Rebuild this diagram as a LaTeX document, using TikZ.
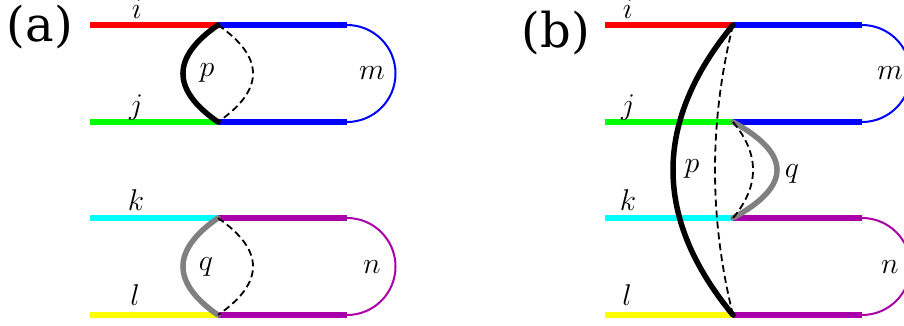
\documentclass[tikz,border=0pt]{standalone}
\usepackage{fix-cm}
\usepackage{fontspec}
\newfontfamily\labfont{DejaVu Serif}
\definecolor{purp}{RGB}{170,0,170}
\definecolor{cyn}{RGB}{0,255,255}
\definecolor{grn}{RGB}{0,255,0}
\definecolor{yel}{RGB}{255,255,0}
\definecolor{gry}{RGB}{128,128,128}
\tikzset{
  leg/.style={line width=6pt},
  loopline/.style={line width=2pt},
  solidprop/.style={line width=5.5pt, line cap=round},
  dashprop/.style={line width=1.8pt, dash pattern=on 7pt off 4pt},
  idx/.style={font=\fontsize{30}{30}\selectfont, anchor=base, inner sep=0pt},
  panel/.style={font=\labfont\fontsize{48}{48}\selectfont, inner sep=0pt}
}
\begin{document}
\begin{tikzpicture}[x=1pt,y=-1pt]
\useasboundingbox (0,0) rectangle (904,325);
\clip (0,0) rectangle (904,325);
% ---------- coordinates
\foreach \r/\y in {i/25,j/122,k/218,l/315}{
  \coordinate (a\r L) at (90,\y);
  \coordinate (a\r J) at (218,\y);
  \coordinate (a\r R) at (347,\y);
  \coordinate (b\r L) at (605,\y);
  \coordinate (b\r J) at (733,\y);
  \coordinate (b\r R) at (862,\y);
}
% ---------- panel (a) lines
\draw[leg, red] (aiL) -- (aiJ);
\draw[leg, grn] (ajL) -- (ajJ);
\draw[leg, cyn] (akL) -- (akJ);
\draw[leg, yel] (alL) -- (alJ);
\draw[leg, blue] (aiJ) -- (aiR);
\draw[leg, blue] (ajJ) -- (ajR);
\draw[leg, purp] (akJ) -- (akR);
\draw[leg, purp] (alJ) -- (alR);
\draw[loopline, blue] (aiR) arc[start angle=-90, end angle=90, radius=48.5];
\draw[loopline, purp] (akR) arc[start angle=-90, end angle=90, radius=48.5];
% propagators (a)
\draw[solidprop, black] (aiJ) .. controls (171.3,57.3) and (171.3,89.7) .. (ajJ);
\draw[dashprop, black] (aiJ) .. controls (264.7,57.3) and (264.7,89.7) .. (ajJ);
\draw[solidprop, gry] (akJ) .. controls (171.3,250.3) and (171.3,282.7) .. (alJ);
\draw[dashprop, black] (akJ) .. controls (264.7,250.3) and (264.7,282.7) .. (alJ);
% labels (a)
\node[panel] (pa) at (40,27) {(a)};
\node[idx] (ai) at (137,18) {$i$};
\node[idx] (aj) at (136,114) {$j$};
\node[idx] (ak) at (136,210) {$k$};
\node[idx] (al) at (135,305) {$l$};
\node[idx] (ap) at (207,76) {$p$};
\node[idx] (am) at (372,79) {$m$};
\node[idx] (aq) at (206,270) {$q$};
\node[idx] (an) at (372,273) {$n$};
% ---------- panel (b) lines
\draw[leg, red] (biL) -- (biJ);
\draw[leg, grn] (bjL) -- (bjJ);
\draw[leg, cyn] (bkL) -- (bkJ);
\draw[leg, yel] (blL) -- (blJ);
\draw[leg, blue] (biJ) -- (biR);
\draw[leg, blue] (bjJ) -- (bjR);
\draw[leg, purp] (bkJ) -- (bkR);
\draw[leg, purp] (blJ) -- (blR);
\draw[loopline, blue] (biR) arc[start angle=-90, end angle=90, radius=48.5];
\draw[loopline, purp] (bkR) arc[start angle=-90, end angle=90, radius=48.5];
% propagators (b)
\draw[solidprop, black] (biJ) .. controls (653,121.7) and (653,218.3) .. (blJ);
\draw[dashprop, black] (biJ) .. controls (709,121.7) and (709,218.3) .. (blJ);
\draw[solidprop, gry] (bjJ) .. controls (791.7,154) and (791.7,186) .. (bkJ);
\draw[dashprop, black] (bjJ) .. controls (759.7,154) and (759.7,186) .. (bkJ);
% labels (b)
\node[panel] (pb) at (556,33) {(b)};
\node[idx] (bi) at (628,18) {$i$};
\node[idx] (bj) at (628,114) {$j$};
\node[idx] (bk) at (628,210) {$k$};
\node[idx] (bl) at (627,305) {$l$};
\node[idx] (bp) at (692,172) {$p$};
\node[idx] (bq) at (792,177) {$q$};
\node[idx] (bm) at (890,79) {$m$};
\node[idx] (bn) at (890,273) {$n$};
\end{tikzpicture}
\end{document}
